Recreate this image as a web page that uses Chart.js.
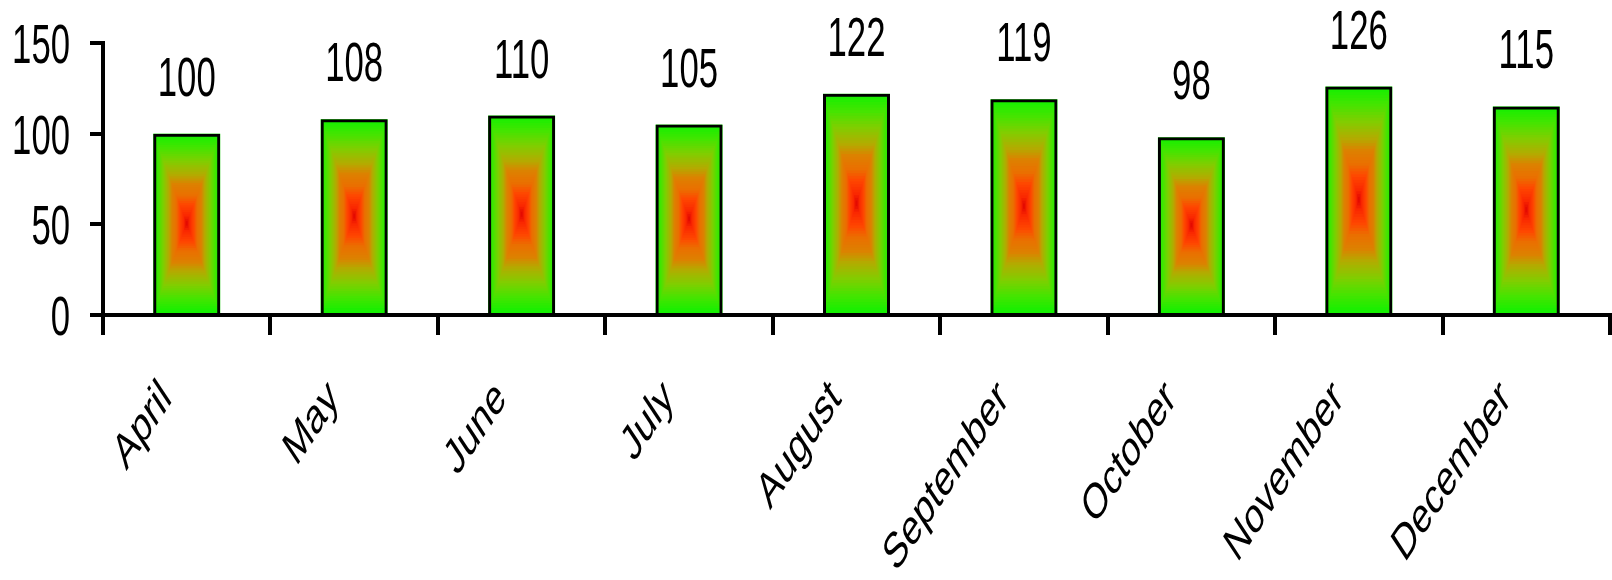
<!DOCTYPE html>
<html lang="en">
<head>
  <meta charset="UTF-8">
  <title>Monthly values</title>
  <script src="https://cdn.jsdelivr.net/npm/chart.js"></script>
  <style>
    body {
      margin: 0;
      background: #fff;
    }
    canvas {
      display: block;
    }
  </style>
</head>
<body>
  <canvas id="chartCanvas" width="1612" height="580"></canvas>

  <script>
    const months = ['April', 'May', 'June', 'July', 'August', 'September', 'October', 'November', 'December'];
    const values = [100, 108, 110, 105, 122, 119, 98, 126, 115];
    const yTicks = [0, 50, 100, 150];

    // colour stops of the "from centre" fill: 0 = bar edge, 1 = bar centre
    const fillStops = [
      [0.0, [20, 240, 0]],
      [0.15, [70, 228, 0]],
      [0.3, [130, 205, 0]],
      [0.45, [180, 170, 0]],
      [0.55, [220, 130, 0]],
      [0.68, [235, 110, 0]],
      [0.78, [255, 70, 0]],
      [0.9, [250, 40, 0]],
      [1.0, [220, 0, 0]]
    ];

    function stopColor(t) {
      for (let i = 1; i < fillStops.length; i++) {
        const [t1, c1] = fillStops[i];
        const [t0, c0] = fillStops[i - 1];
        if (t <= t1) {
          const k = (t - t0) / (t1 - t0);
          const c = c0.map((v, j) => Math.round(v + (c1[j] - v) * k));
          return `rgb(${c[0]},${c[1]},${c[2]})`;
        }
      }
      const c = fillStops[fillStops.length - 1][1];
      return `rgb(${c[0]},${c[1]},${c[2]})`;
    }

    const barFill = {
      id: 'barFill',
      beforeDatasetsDraw(chart) {
        const ctx = chart.ctx;
        const meta = chart.getDatasetMeta(0);
        const steps = 40;
        ctx.save();
        meta.data.forEach(bar => {
          const { x, y, base, width } = bar.getProps(['x', 'y', 'base', 'width'], true);
          const left = x - width / 2;
          const h = base - y;
          for (let i = 0; i < steps; i++) {
            const t = i / steps;
            const dx = t * width / 2;
            const dy = t * h / 2;
            ctx.fillStyle = stopColor(t);
            ctx.fillRect(left + dx, y + dy, width - 2 * dx, h - 2 * dy);
          }
        });
        ctx.restore();
      }
    };

    const textLabels = {
      id: 'textLabels',
      afterDraw(chart) {
        const ctx = chart.ctx;
        const xs = chart.scales.x;
        const ys = chart.scales.y;
        ctx.save();
        ctx.fillStyle = '#000';

        // value labels above the bars
        ctx.font = '56px "Liberation Sans", Arial, sans-serif';
        ctx.textAlign = 'center';
        ctx.textBaseline = 'alphabetic';
        chart.getDatasetMeta(0).data.forEach((bar, i) => {
          ctx.save();
          ctx.translate(bar.x, bar.y - 38);
          ctx.scale(0.62, 1);
          ctx.fillText(String(values[i]), 0, 0);
          ctx.restore();
        });

        // y tick labels
        ctx.textAlign = 'right';
        ys.ticks.forEach(t => {
          const py = ys.getPixelForValue(t.value);
          ctx.save();
          ctx.translate(70, py + 20);
          ctx.scale(0.62, 1);
          ctx.fillText(String(t.value), 0, 0);
          ctx.restore();
        });

        // rotated month labels
        ctx.font = '50px "Liberation Sans", Arial, sans-serif';
        ctx.textAlign = 'right';
        ctx.textBaseline = 'top';
        chart.data.labels.forEach((lab, i) => {
          const px = xs.getPixelForValue(i);
          ctx.save();
          ctx.translate(px - 32, 373);
          ctx.scale(0.66, 1);
          ctx.rotate(-Math.PI / 4);
          ctx.fillText(lab, 0, 0);
          ctx.restore();
        });
        ctx.restore();
      }
    };

    const chart = new Chart(document.getElementById('chartCanvas').getContext('2d'), {
      type: 'bar',
      data: {
        labels: months,
        datasets: [{
          data: values,
          backgroundColor: 'rgba(0,0,0,0)',
          borderColor: '#000',
          borderWidth: 3,
          barPercentage: 0.4,
          categoryPercentage: 1.0
        }]
      },
      options: {
        responsive: false,
        animation: false,
        layout: { padding: { top: 43, right: 2, left: 0, bottom: 0 } },
        plugins: {
          legend: { display: false },
          tooltip: { enabled: false }
        },
        scales: {
          x: {
            offset: true,
            grid: { offset: true, drawOnChartArea: false, tickLength: 20, color: '#000', lineWidth: 4 },
            border: { display: true, color: '#000', width: 4 },
            ticks: { display: false },
            afterFit(scale) { scale.height = 265; }
          },
          y: {
            min: 0,
            max: 150,
            afterBuildTicks(scale) { scale.ticks = yTicks.map(v => ({ value: v })); },
            grid: { drawOnChartArea: false, tickLength: 13, color: '#000', lineWidth: 4 },
            border: { display: true, color: '#000', width: 4 },
            ticks: { display: false },
            afterFit(scale) { scale.width = 103; }
          }
        }
      },
      plugins: [barFill, textLabels]
    });
  </script>
</body>
</html>
